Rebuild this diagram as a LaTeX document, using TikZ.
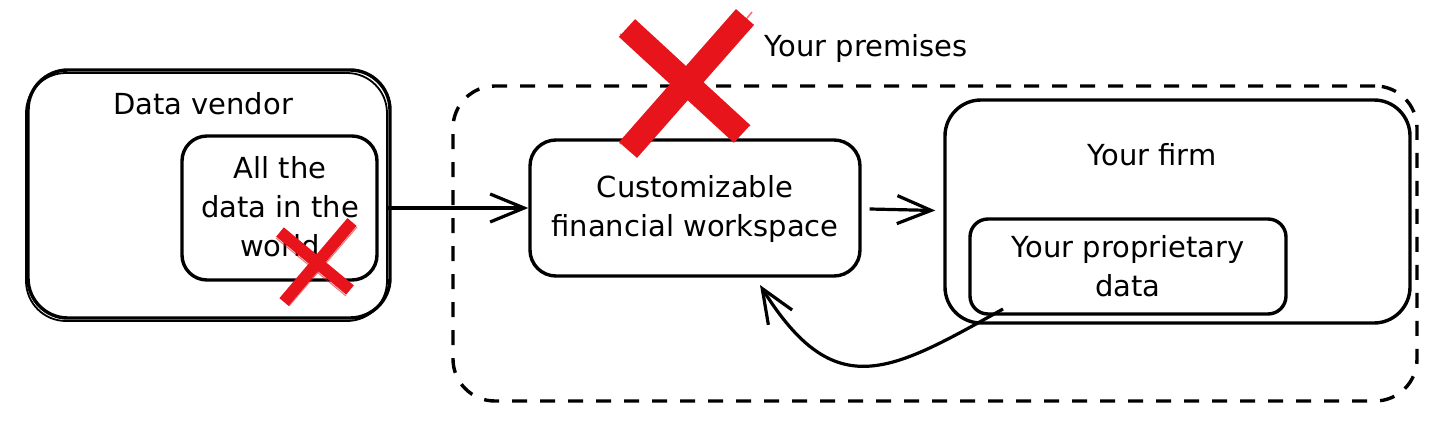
\documentclass[tikz,border=0pt]{standalone}
\usepackage{fontspec}
\setmainfont{DejaVu Sans}
\usetikzlibrary{arrows.meta}
\definecolor{xred}{HTML}{E8141B}
\tikzset{
  box/.style={draw=black, line width=3.4pt, rounded corners=#1},
  box/.default=25pt,
  lbl/.style={font=\fontsize{29}{39}\selectfont, align=center, inner sep=0pt},
  flow/.style={line width=3.2pt, -{Straight Barb[length=34pt,width=28pt,line width=3.2pt]}},
  dashbox/.style={draw=black, line width=3.4pt, dash pattern=on 15pt off 13pt, rounded corners=42pt},
  xstroke/.style={draw=xred, line width=#1, line cap=butt},
}
\begin{document}
\begin{tikzpicture}[x=1pt,y=-1pt]
\useasboundingbox[fill=white] (0,0) rectangle (1456,436);
% premises
\node[dashbox, minimum width=964pt, minimum height=315pt] (prem) at (935,243.5) {};
\node[lbl, anchor=center] (premlbl) at (866,48) {Your premises};
% data vendor
\node[box=40pt, minimum width=362pt, minimum height=248pt] (vendor) at (209,194) {};
\draw[line width=1.8pt, rounded corners=40pt] (26,73) rectangle (387,321);
\node[lbl] (vendorlbl) at (203,104) {Data vendor};
\node[box=25pt, minimum width=195pt, minimum height=144pt] (world) at (279.5,208) {};
\node[lbl] (worldlbl) at (280,207) {All the\\data in the\\world};
% workspace
\node[box=26pt, minimum width=330pt, minimum height=136pt] (ws) at (695,208) {};
\node[lbl] (wslbl) at (695,209) {Customizable\\financial workspace};
% firm
\node[box=36pt, minimum width=465pt, minimum height=223pt] (firm) at (1177.5,211.5) {};
\node[lbl] (firmlbl) at (1152,155) {Your firm};
\node[box=18pt, minimum width=316pt, minimum height=95pt] (prop) at (1128,266.5) {};
\node[lbl] (proplbl) at (1128,266) {Your proprietary\\data};
% connectors
\draw[flow] (world.east) ++(8,0) coordinate (a1) -- (ws.west);
\draw[flow] (ws.east) ++(8,1) coordinate (a2) -- ([xshift=-8pt,yshift=1pt]firm.west);
\coordinate (cstart) at (1003,309);
\coordinate (cend) at (760,285);
\draw[flow] (cstart) .. controls (890,372) and (835,405) .. (cend);
% red crosses
\begin{scope}
\draw[xstroke=24pt] (627,28) -- (742,134);
\draw[xstroke=24pt] (745,17) -- (628,150);
\draw[xstroke=1.5pt, opacity=0.6] (620,34) -- (736,140);
\draw[xstroke=1.5pt, opacity=0.6] (752,12) -- (636,154);
\draw[xstroke=1.5pt, opacity=0.6] (635,22) -- (750,126);
\draw[xstroke=1.5pt, opacity=0.6] (738,14) -- (620,144);
\end{scope}
\begin{scope}
\draw[xstroke=12pt] (280,232) -- (350,290);
\draw[xstroke=12pt] (352,222) -- (284,302);
\draw[xstroke=1pt, opacity=0.6] (276,238) -- (346,296);
\draw[xstroke=1pt, opacity=0.6] (357,227) -- (289,306);
\end{scope}
\end{tikzpicture}
\end{document}
